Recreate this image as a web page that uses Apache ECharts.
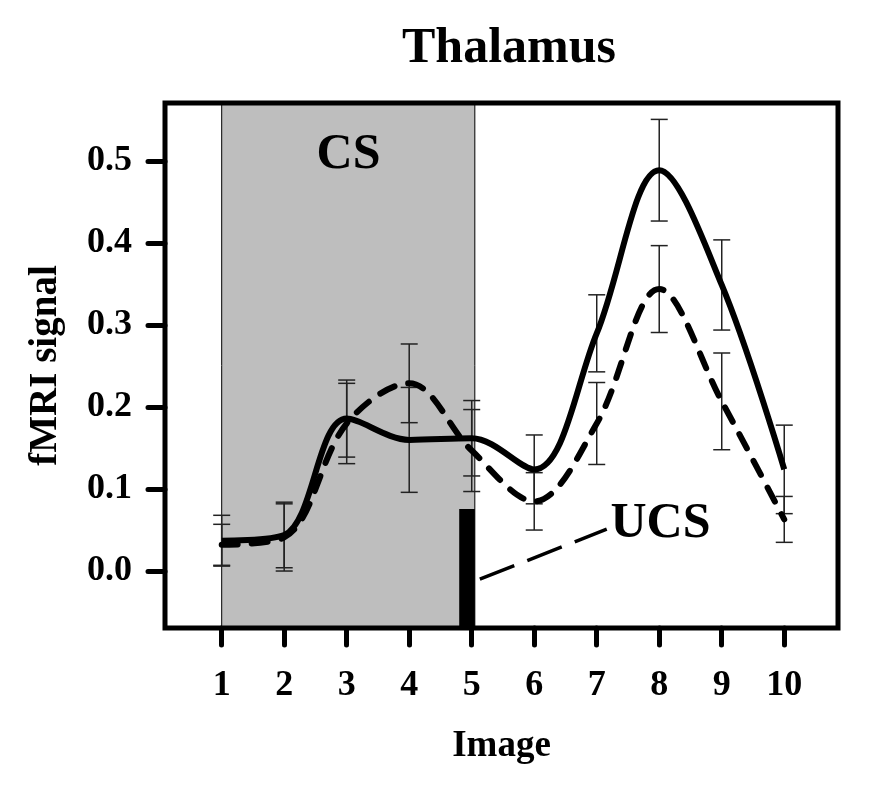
<!DOCTYPE html>
<html>
<head>
<meta charset="utf-8">
<script src="https://cdn.jsdelivr.net/npm/echarts@6/dist/echarts.min.js"></script>
<style>
  html, body { margin: 0; padding: 0; background: #fff; }
  #main { width: 885px; height: 789px; }
</style>
</head>
<body>
<div id="main"></div>
<script>
// image number along x
const images = [1, 2, 3, 4, 5, 6, 7, 8, 9, 10];
const yTicks = [0, 0.1, 0.2, 0.3, 0.4, 0.5];

// solid curve: mean and error half-width
const solidMean = [0.037, 0.044, 0.186, 0.160, 0.162, 0.124, 0.290, 0.489, 0.349, 0.124];
const solidErr  = [0.031, 0.040, 0.047, 0.064, 0.046, 0.042, 0.047, 0.062, 0.055, 0.054];
// dashed curve
const dashMean  = [0.032, 0.041, 0.180, 0.229, 0.147, 0.085, 0.180, 0.344, 0.207, 0.063];
const dashErr   = [0.025, 0.041, 0.049, 0.048, 0.050, 0.035, 0.050, 0.053, 0.059, 0.028];

// CS period shading and UCS marker
const csRange = [1, 5.05];
const ucsBar = [4.8, 5.05, 0.0756];
const ucsPointer = [[5.13, -0.01], [7.16, 0.051]];
const labels = [[3.03, 0.508, 'CS'], [8.02, 0.057, 'UCS']];

const X_MIN = 0.093, X_MAX = 10.86;
const Y_MIN = -0.0695, Y_MAX = 0.571;

const FONT = "'Liberation Serif', 'Times New Roman', serif";

const chart = echarts.init(document.getElementById('main'));

function errorSeries(mean, err) {
  return {
    type: 'custom',
    z: 3,
    silent: true,
    data: images.map((x, i) => [x, mean[i] - err[i], mean[i] + err[i]]),
    renderItem: function (params, api) {
      const lo = api.coord([api.value(0), api.value(1)]);
      const hi = api.coord([api.value(0), api.value(2)]);
      const w = 8.5;
      const style = { stroke: '#222', lineWidth: 1.5 };
      return {
        type: 'group',
        children: [
          { type: 'line', shape: { x1: lo[0], y1: lo[1], x2: hi[0], y2: hi[1] }, style },
          { type: 'line', shape: { x1: lo[0] - w, y1: lo[1], x2: lo[0] + w, y2: lo[1] }, style },
          { type: 'line', shape: { x1: hi[0] - w, y1: hi[1], x2: hi[0] + w, y2: hi[1] }, style }
        ]
      };
    }
  };
}

const option = {
  animation: false,
  title: {
    text: 'Thalamus',
    left: 504,
    top: 19,
    textAlign: 'center',
    textStyle: { fontFamily: FONT, fontWeight: 'bold', fontSize: 50, color: '#000' }
  },
  grid: { left: 165, right: 47, top: 103, bottom: 161 },
  xAxis: {
    type: 'value',
    min: X_MIN,
    max: X_MAX,
    axisLine: { show: false, onZero: false },
    axisTick: { show: true, length: 17, customValues: images, lineStyle: { color: '#000', width: 5, cap: 'round' } },
    axisLabel: { customValues: images, margin: 40, fontFamily: FONT, fontWeight: 'bold', fontSize: 36, color: '#000' },
    splitLine: { show: false },
    name: 'Image',
    nameLocation: 'middle',
    nameGap: 100,
    nameTextStyle: { fontFamily: FONT, fontWeight: 'bold', fontSize: 37, color: '#000' }
  },
  yAxis: {
    type: 'value',
    min: Y_MIN,
    max: Y_MAX,
    axisLine: { show: false, onZero: false },
    axisTick: { show: true, length: 17, customValues: yTicks, lineStyle: { color: '#000', width: 5, cap: 'round' } },
    axisLabel: {
      customValues: yTicks, margin: 33, fontFamily: FONT, fontWeight: 'bold', fontSize: 36, color: '#000',
      formatter: v => v.toFixed(1)
    },
    splitLine: { show: false },
    name: 'fMRI signal',
    nameLocation: 'middle',
    nameGap: 100,
    nameTextStyle: { fontFamily: FONT, fontWeight: 'bold', fontSize: 39, color: '#000' }
  },
  graphic: [{
    type: 'rect',
    z: 100,
    shape: { x: 165, y: 103, width: 673, height: 525 },
    style: { fill: 'none', stroke: '#000', lineWidth: 5 }
  }],
  series: [
    {
      type: 'line',
      data: [],
      silent: true,
      z: 1,
      markArea: {
        silent: true,
        data: [
          [{ xAxis: csRange[0], itemStyle: { color: '#bebebe', borderColor: '#000', borderWidth: 1 } }, { xAxis: csRange[1] }],
          [{ xAxis: ucsBar[0], yAxis: Y_MIN, itemStyle: { color: '#000', borderWidth: 0 } }, { xAxis: ucsBar[1], yAxis: ucsBar[2] }]
        ]
      },
      markLine: {
        silent: true,
        symbol: 'none',
        label: { show: false },
        lineStyle: { color: '#000', width: 3.5, type: [37, 14] },
        data: [[{ coord: ucsPointer[0] }, { coord: ucsPointer[1] }]]
      }
    },
    errorSeries(solidMean, solidErr),
    errorSeries(dashMean, dashErr),
    {
      name: 'solid',
      type: 'line',
      z: 4,
      smooth: 0.35,
      showSymbol: false,
      data: images.map((x, i) => [x, solidMean[i]]),
      lineStyle: { color: '#000', width: 6 }
    },
    {
      name: 'dashed',
      type: 'line',
      z: 4,
      smooth: 0.35,
      showSymbol: false,
      data: images.map((x, i) => [x, dashMean[i]]),
      lineStyle: { color: '#000', width: 6, type: [16, 14], cap: 'round' }
    },
    {
      type: 'scatter',
      z: 5,
      silent: true,
      symbolSize: 0,
      itemStyle: { opacity: 1 },
      data: labels,
      label: {
        show: true,
        position: 'inside',
        formatter: p => p.value[2],
        fontFamily: FONT, fontWeight: 'bold', fontSize: 50, color: '#000'
      }
    }
  ]
};

chart.setOption(option);
</script>
</body>
</html>
